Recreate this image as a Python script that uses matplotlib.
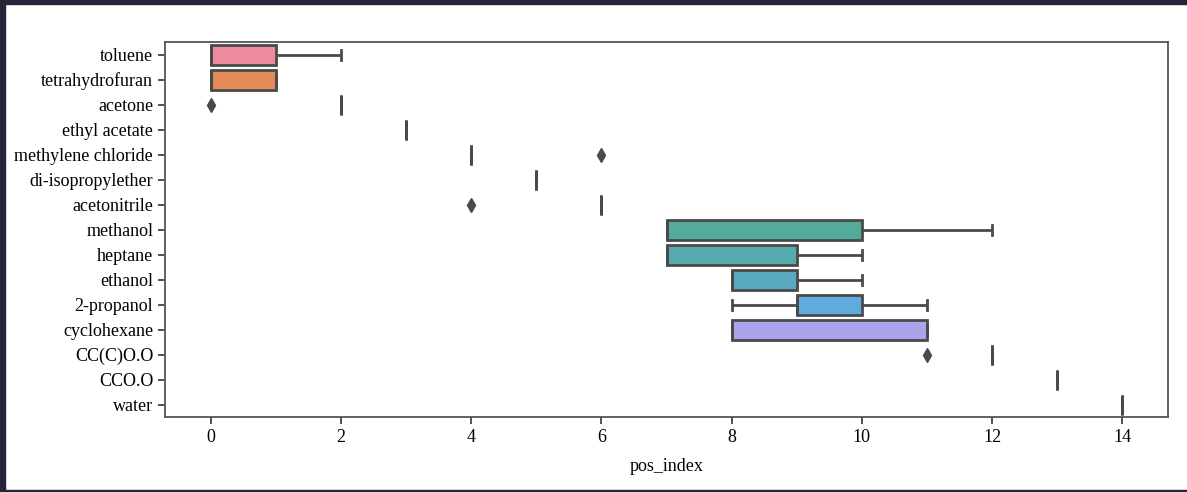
import numpy as np
import pandas as pd
import matplotlib
matplotlib.use("Agg")
import matplotlib.pyplot as plt
import seaborn as sns
from matplotlib.patches import Rectangle

# Solvents and their observed positions (pos_index)
solvents = ["toluene", "tetrahydrofuran", "acetone", "ethyl acetate",
            "methylene chloride", "di-isopropylether", "acetonitrile",
            "methanol", "heptane", "ethanol", "2-propanol", "cyclohexane",
            "CC(C)O.O", "CCO.O", "water"]

toluene = [0, 0, 0, 1, 2]
tetrahydrofuran = [0, 0, 0, 1, 1]
acetone = [0, 2, 2, 2, 2]
ethyl_acetate = [3]
methylene_chloride = [4, 4, 4, 4, 6]
di_isopropylether = [5]
acetonitrile = [4, 6, 6, 6, 6]
methanol = [7, 7, 7, 10, 12]
heptane = [7, 7, 7, 9, 10]
ethanol = [8, 8, 8, 9, 10]
propanol_2 = [8, 9, 9, 10, 11]
cyclohexane = [8, 8, 8, 11, 11]
ipa_water = [11, 12, 12, 12, 12]
etoh_water = [13]
water = [14]

positions = [toluene, tetrahydrofuran, acetone, ethyl_acetate,
             methylene_chloride, di_isopropylether, acetonitrile,
             methanol, heptane, ethanol, propanol_2, cyclohexane,
             ipa_water, etoh_water, water]

rows = []
for name, vals in zip(solvents, positions):
    for v in vals:
        rows.append({"solvent": name, "pos_index": v})
df = pd.DataFrame(rows)

# husl palette, desaturated like old seaborn, then washed a little toward white
pal = [sns.desaturate(c, 0.8) for c in sns.color_palette("husl", len(solvents))]
pal = [tuple(0.9 * np.array(c) + 0.1) for c in pal]

plt.rcParams["font.family"] = ["Liberation Serif", "DejaVu Serif"]

fig = plt.figure(figsize=(11.87, 4.92), dpi=100)
ax = fig.add_axes([165 / 1187, 1 - 417 / 492, (1168 - 165) / 1187, (417 - 42) / 492])

gray = "#4a4a4a"
sns.boxplot(data=df, x="pos_index", y="solvent", hue="solvent", order=solvents,
            palette=pal, saturation=1,
            legend=False, orient="h", linewidth=2, linecolor=gray, width=0.8,
            flierprops=dict(marker="d", markerfacecolor=gray, markeredgecolor=gray,
                            markersize=7), ax=ax)

ax.set_ylabel("")
ax.set_xlabel("pos_index", fontsize=13, labelpad=9)
ax.set_xticks(range(0, 15, 2))
ax.tick_params(axis="both", labelsize=13, color="#444444", width=1.3, length=5)
for sp in ax.spines.values():
    sp.set_color("#555555")
    sp.set_linewidth(1.3)

# screenshot frame
fig.patches.append(Rectangle((0, 1 - 4 / 492), 1, 4 / 492, transform=fig.transFigure,
                             color="#25253a", zorder=10))
fig.patches.append(Rectangle((0, 0), 5 / 1187, 1, transform=fig.transFigure,
                             color="#25253a", zorder=10))
fig.patches.append(Rectangle((0, 0), 1, 2 / 492, transform=fig.transFigure,
                             color="#25253a", zorder=10))

fig.savefig("out.png", dpi=100)
